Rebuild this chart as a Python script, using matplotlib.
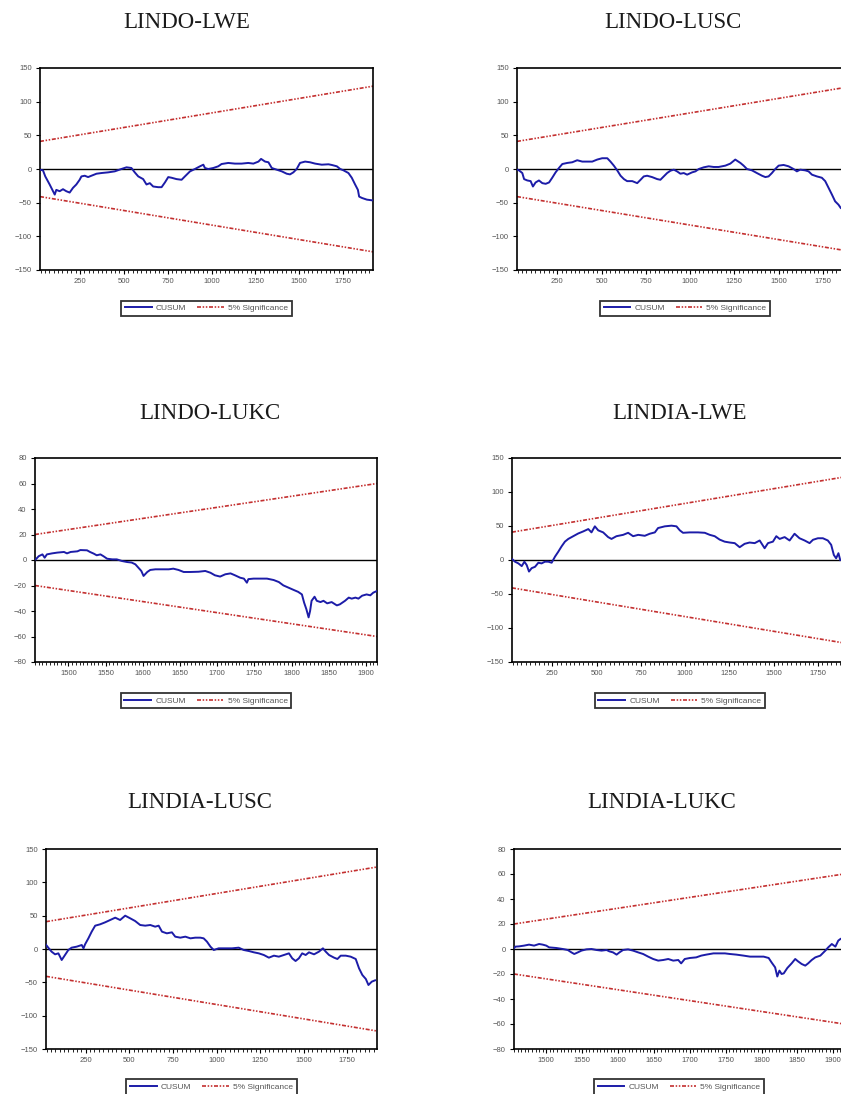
import numpy as np
import matplotlib.pyplot as plt
from matplotlib.ticker import MultipleLocator
from matplotlib.lines import Line2D

# ---- CUSUM paths (observation number, cumulative sum) ----
indo_lwe_obs = [20, 39, 52, 77, 106, 115, 134, 153, 172, 191, 210, 229, 248, 258, 277, 296,
                315, 344, 372, 410, 448, 486, 515, 543, 562, 582, 610, 629, 648, 667, 696,
                715, 734, 753, 772, 800, 829, 848, 877, 905, 934, 953, 962, 981, 1010, 1038,
                1057, 1095, 1133, 1171, 1209, 1238, 1267, 1282, 1305, 1324, 1343, 1371, 1400,
                1428, 1447, 1466, 1485, 1504, 1533, 1561, 1590, 1628, 1666, 1685, 1714, 1733,
                1752, 1780, 1799, 1818, 1834, 1841, 1857, 1885, 1914]
indo_lwe_cusum = [-1, -2, -11, -23, -38, -31, -33, -30, -33, -35, -28, -23, -16, -11, -10, -12,
                  -10, -7, -6, -5, -3.5, 0, 2.5, 1.5, -5, -11, -15, -23, -21, -26, -27,
                  -27, -20, -12, -13, -15, -16, -11, -3.5, 0, 4, 6.4, 1.5, 0, 1.5, 4,
                  7.4, 9, 8, 8, 9, 8, 11, 15, 11, 10, 1.5, -1, -3.5,
                  -7, -8, -5, 0, 9, 11, 10, 8, 6.4, 7, 6, 4, 0,
                  -2, -6, -13, -23, -31, -41, -43, -45.5, -46.5]

indo_lusc_obs = [24, 33, 52, 62, 80, 99, 112, 127, 146, 165, 184, 203, 221, 240, 259, 278, 306,
                 334, 362, 391, 419, 447, 475, 503, 532, 550, 569, 588, 607, 626, 644, 673,
                 701, 720, 738, 757, 785, 814, 832, 851, 870, 889, 908, 926, 945, 964, 983,
                 1011, 1030, 1049, 1077, 1105, 1133, 1161, 1199, 1227, 1255, 1284, 1302, 1321,
                 1349, 1377, 1406, 1425, 1443, 1462, 1481, 1500, 1528, 1556, 1584, 1603, 1622,
                 1650, 1669, 1688, 1716, 1744, 1763, 1782, 1801, 1819, 1838, 1851, 1875]
indo_lusc_cusum = [-1, -2, -6, -15, -17, -18, -26, -20, -17, -21, -22, -20, -13, -5, 1.5, 7.4, 9,
                   10, 13, 11, 11, 11, 14, 16, 16, 11, 5, -2, -10, -15, -18, -18,
                   -21, -16, -11, -10, -12, -15, -16, -11, -6, -2.5, -1, -3.5, -7, -6, -8.4,
                   -5, -3.5, 0, 2.5, 4, 3, 3, 5, 8, 14, 9, 5, 0,
                   -2, -6, -10, -12, -11, -6, 0, 5, 6, 4, 0, -3.5, -1,
                   -2, -3.5, -8.4, -11, -13, -18, -28, -38, -48, -53, -58, -61]

indo_lukc_obs = [1456, 1460, 1465, 1468, 1471, 1478, 1485, 1494, 1498, 1503, 1512, 1516, 1525,
                 1529, 1534, 1538, 1543, 1547, 1552, 1559, 1565, 1572, 1579, 1585, 1590, 1594,
                 1598, 1601, 1606, 1610, 1617, 1626, 1635, 1641, 1648, 1655, 1664, 1675, 1684,
                 1691, 1697, 1704, 1711, 1718, 1724, 1731, 1736, 1740, 1742, 1749, 1758, 1767,
                 1776, 1783, 1789, 1796, 1803, 1809, 1814, 1817, 1820, 1823, 1825, 1827, 1831,
                 1834, 1839, 1843, 1848, 1854, 1861, 1865, 1872, 1877, 1881, 1886, 1890, 1895,
                 1901, 1906, 1910, 1915]
indo_lukc_cusum = [0.5, 3, 4.4, 1.8, 4.4, 5.2, 5.8, 6.3, 5.2, 6.3, 6.8, 7.8, 7.6,
                   6.3, 5, 3.7, 4.4, 3, 1, 0.5, 0.5, -0.8, -1.6, -2, -3.4, -6,
                   -8.6, -12.5, -9.4, -7.8, -7.3, -7.3, -7.3, -6.8, -7.8, -9.4, -9.4, -9.2, -8.6,
                   -10, -12, -13, -11.2, -10.5, -12, -13.9, -14.6, -17.8, -15, -14.6, -14.6, -14.6,
                   -15.7, -17.3, -19.9, -21.7, -23.5, -25, -27, -33.5, -38.6, -45, -40, -32, -28.8,
                   -32, -33, -32, -34, -33, -35.6, -34.8, -32, -29.5, -30.3, -29.5, -30.3, -28,
                   -27, -27.7, -25.6, -24.3]

india_lwe_obs = [24, 39, 58, 77, 92, 105, 118, 133, 152, 171, 189, 208, 227, 246, 265, 283, 302,
                 321, 340, 368, 396, 424, 453, 471, 490, 509, 537, 565, 584, 612, 650, 678,
                 706, 735, 772, 800, 829, 847, 885, 923, 951, 970, 988, 1026, 1073, 1111, 1139,
                 1167, 1195, 1223, 1252, 1280, 1308, 1336, 1364, 1393, 1421, 1449, 1468, 1496,
                 1515, 1534, 1562, 1590, 1618, 1646, 1675, 1703, 1722, 1750, 1778, 1806, 1825,
                 1840, 1853, 1866, 1876]
india_lwe_cusum = [1, -2.5, -5, -9, -2.5, -7.4, -17, -12, -10, -4, -5, -2.5, -2.5, -4, 5, 12, 20,
                   27, 31, 35, 39, 42, 45.5, 40.6, 49.5, 43.6, 40.6, 33.7, 31, 35, 37, 40,
                   35, 37, 35.6, 38.6, 40.6, 47, 49.5, 50.5, 49.5, 43.6, 40, 40.6, 40.6, 40, 37,
                   35, 30, 27, 25.7, 24.8, 18.8, 23.8, 25.7, 24.8, 28.7, 17.3, 24.8, 27,
                   35, 31, 33.7, 28.7, 38.6, 32, 28.7, 24.8, 29.7, 32, 32, 28.7, 22.3,
                   7.4, 2.5, 10, 0]

india_lusc_obs = [20, 35, 54, 74, 93, 112, 131, 150, 169, 198, 227, 237, 246, 265, 284, 304, 332,
                  361, 390, 419, 447, 476, 505, 533, 562, 591, 620, 648, 668, 687, 715, 744,
                  763, 792, 821, 850, 878, 907, 926, 945, 965, 984, 1012, 1051, 1089, 1127,
                  1156, 1185, 1214, 1242, 1271, 1300, 1329, 1357, 1386, 1415, 1434, 1453, 1472,
                  1491, 1511, 1530, 1559, 1587, 1610, 1626, 1645, 1674, 1693, 1712, 1741, 1769,
                  1798, 1817, 1836, 1856, 1871, 1890, 1909]
india_lusc_cusum = [7, 2, -4, -8, -6.5, -16.5, -9, -1.5, 2, 3.5, 6, 1, 7, 16, 26, 35, 37,
                    40, 43.5, 47, 43.5, 50, 46, 42, 36, 35, 36, 33.5, 35, 26, 23.5, 25,
                    18.5, 17, 18.5, 16, 17, 17, 16, 11, 3.5, -1.5, 1, 1, 1, 2,
                    -1.5, -3, -5, -6.5, -9, -13, -10, -11.5, -9, -6.5, -14, -18, -14,
                    -6.5, -9, -5, -8, -4, 1, -4, -9, -13, -15, -10, -10, -11.5,
                    -15, -29, -39, -45, -54, -49, -47]

india_lukc_obs = [1454, 1457, 1462, 1469, 1476, 1483, 1490, 1495, 1500, 1504, 1514, 1523, 1530,
                  1535, 1539, 1544, 1549, 1556, 1563, 1570, 1577, 1584, 1588, 1593, 1598, 1602,
                  1607, 1614, 1621, 1628, 1635, 1642, 1649, 1656, 1663, 1670, 1677, 1684, 1688,
                  1693, 1700, 1709, 1716, 1723, 1733, 1742, 1749, 1756, 1765, 1775, 1784, 1793,
                  1803, 1810, 1814, 1819, 1822, 1825, 1828, 1831, 1836, 1842, 1847, 1851, 1856,
                  1861, 1865, 1870, 1875, 1882, 1889, 1893, 1898, 1903, 1907, 1910]
india_lukc_cusum = [0, 1.9, 2.1, 2.7, 3.5, 2.7, 4, 3.5, 2.7, 1.3, 0.8, 0, -0.8,
                    -2.7, -4, -2.7, -1.3, -0.3, 0, -0.8, -1.3, -0.8, -1.9, -2.7, -4.5, -2.7,
                    -0.8, -0.3, -1.3, -2.7, -4, -6.1, -8, -9.3, -8.8, -8, -9.3, -8.8, -11.5,
                    -8, -7.2, -6.7, -5.3, -4.5, -3.5, -3.5, -3.5, -4, -4.5, -5.3, -6.1, -6.1,
                    -6.1, -7.2, -10.7, -14.7, -22, -17.3, -20, -19.5, -15.2, -11.5, -8, -9.9, -12,
                    -13.3, -11.5, -8.8, -6.7, -5.3, -1.3, 1.3, 4, 1.9, 6.7, 8]

# ---- 5% significance bounds (value at first and last observation) ----
full_sample = [22, 1920]
sub_sample = [1455, 1915]
bound_full = [41, 123]
bound_sub = [20, 60]

titles = ["LINDO-LWE", "LINDO-LUSC", "LINDO-LUKC", "LINDIA-LWE", "LINDIA-LUSC", "LINDIA-LUKC"]

W, H = 841, 1094
fig = plt.figure(figsize=(W / 100, H / 100), dpi=100)
fig.patch.set_facecolor("white")

CUSUM_COLOR = "#1c1ca8"
SIG_COLOR = "#c43030"
SIG_STYLE = (0, (2.4, 1.0, 0.9, 1.0, 0.9, 1.0))
TICK_COLOR = "#555555"


def add_panel(box, title, title_xy, obs, cusum, sample, bound, ylim, ystep,
              xmajor, xminor):
    left, top, right, bottom = box
    ax = fig.add_axes([left / W, 1 - bottom / H, (right - left) / W, (bottom - top) / H])
    ax.plot(obs, cusum, color=CUSUM_COLOR, lw=1.4, zorder=3)
    ax.plot(sample, bound, color=SIG_COLOR, lw=1.2, ls=SIG_STYLE, zorder=2)
    ax.plot(sample, [-b for b in bound], color=SIG_COLOR, lw=1.2, ls=SIG_STYLE, zorder=2)
    ax.axhline(0, color="black", lw=1.0, zorder=1)
    ax.set_xlim(sample)
    ax.set_ylim(-ylim, ylim)
    ax.yaxis.set_major_locator(MultipleLocator(ystep))
    ax.xaxis.set_major_locator(MultipleLocator(xmajor))
    ax.xaxis.set_minor_locator(MultipleLocator(xminor))
    ax.tick_params(axis="both", which="major", direction="out", length=3, width=0.8,
                   labelsize=5.5, labelcolor=TICK_COLOR, pad=3, color="black")
    ax.tick_params(axis="x", which="minor", direction="out", length=2, width=0.6)
    ax.tick_params(top=False, right=False)
    for lab in ax.get_xticklabels() + ax.get_yticklabels():
        lab.set_family("Liberation Sans")
    for s in ax.spines.values():
        s.set_linewidth(1.2)
        s.set_color("black")

    handles = [Line2D([], [], color=CUSUM_COLOR, lw=1.4),
               Line2D([], [], color=SIG_COLOR, lw=1.2, ls=SIG_STYLE)]
    leg = ax.legend(handles, ["CUSUM", "5% Significance"], loc="center",
                    bbox_to_anchor=(0.5, -0.19), ncol=2, frameon=True,
                    fancybox=False, handlelength=3.2, columnspacing=1.3, handletextpad=0.5,
                    borderpad=0.45, prop={"family": "Liberation Sans", "size": 6})
    leg.get_frame().set_edgecolor("black")
    leg.get_frame().set_linewidth(1.3)
    for t in leg.get_texts():
        t.set_color(TICK_COLOR)

    fig.text(title_xy[0] / W, 1 - title_xy[1] / H, title, ha="center", va="center",
             fontsize=16.5, family="Liberation Serif", color="#1a1a1a")
    return ax


add_panel((40, 68, 373, 270), titles[0], (187, 23), indo_lwe_obs, indo_lwe_cusum,
          full_sample, bound_full, 150, 50, 250, 25)
add_panel((517, 68, 853, 270), titles[1], (673, 23), indo_lusc_obs, indo_lusc_cusum,
          full_sample, bound_full, 150, 50, 250, 25)
add_panel((35, 458, 377, 662), titles[2], (210, 413), indo_lukc_obs, indo_lukc_cusum,
          sub_sample, bound_sub, 80, 20, 50, 5)
add_panel((512, 458, 848, 662), titles[3], (680, 413), india_lwe_obs, india_lwe_cusum,
          full_sample, bound_full, 150, 50, 250, 25)
add_panel((46, 849, 377, 1049), titles[4], (200, 803), india_lusc_obs, india_lusc_cusum,
          full_sample, bound_full, 150, 50, 250, 25)
add_panel((514, 849, 844, 1049), titles[5], (662, 803), india_lukc_obs, india_lukc_cusum,
          sub_sample, bound_sub, 80, 20, 50, 5)

fig.savefig("out.png", dpi=100)
